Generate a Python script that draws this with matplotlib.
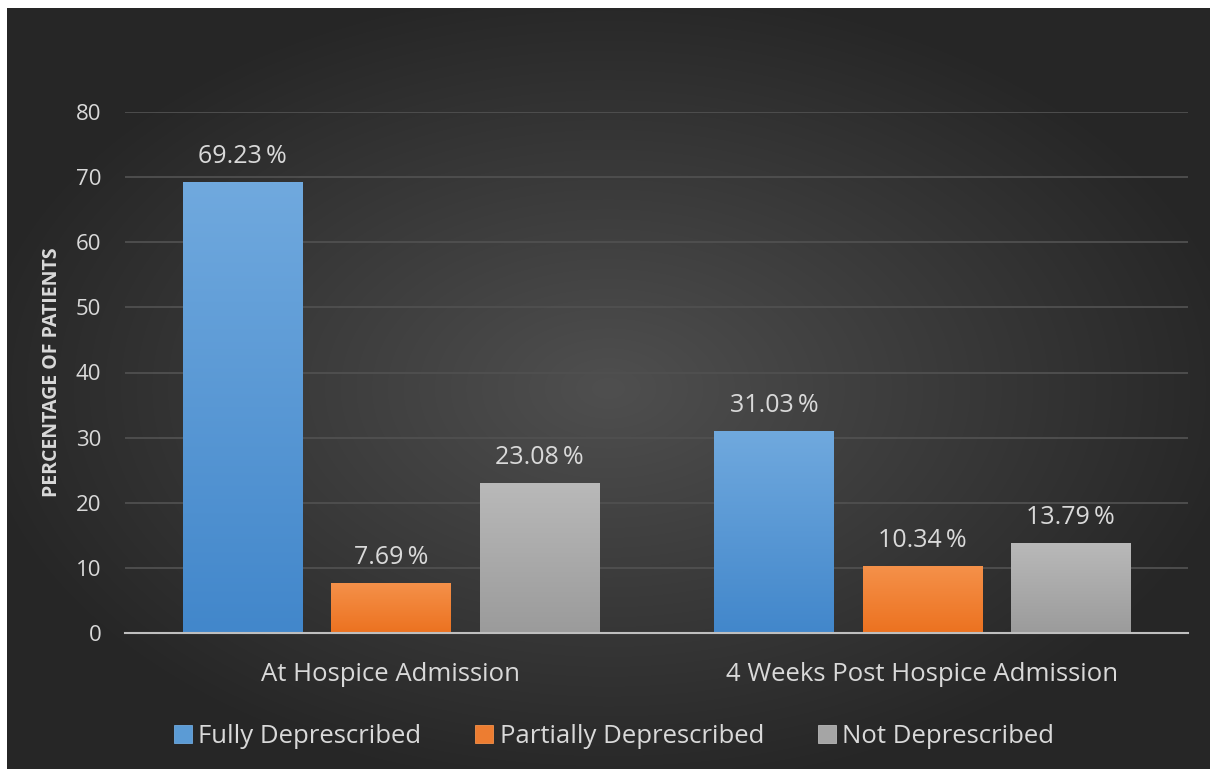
import numpy as np
import matplotlib.pyplot as plt
from matplotlib.colors import to_rgb

categories = ['At Hospice Admission', '4 Weeks Post Hospice Admission']
series_names = ['Fully Deprescribed', 'Partially Deprescribed', 'Not Deprescribed']
fully = [69.23, 31.03]
partially = [7.69, 10.34]
not_depr = [23.08, 13.79]
yticks = [0, 10, 20, 30, 40, 50, 60, 70, 80]

colors = ['#5b9bd5', '#ed7d31', '#a5a5a5']
tops = ['#70a9de', '#f5914a', '#b9b9b9']
bottoms = ['#4287cb', '#ec7220', '#9b9b9b']
txt = '#d9d9d9'
plt.rcParams['font.family'] = ['Open Sans', 'DejaVu Sans']

fig = plt.figure(figsize=(12.1, 7.69), dpi=100)
fig.patch.set_facecolor('white')

# radial gradient background
bg = fig.add_axes([7 / 1210, 0, 1 - 7 / 1210, 1 - 8 / 769])
bg.set_axis_off()
yy, xx = np.mgrid[-1:1:400j, -1:1:600j]
r = np.sqrt(xx ** 2 + yy ** 2)
g = np.clip(0.31 - 0.15 * r, 0.15, 0.33)
img = np.dstack([g, g, g])
bg.imshow(img, aspect='auto', extent=[0, 1, 0, 1], interpolation='bilinear')

ax = fig.add_axes([125 / 1210, 1 - 633 / 769, 1063 / 1210, 521 / 769])
ax.patch.set_alpha(0)

x = np.arange(len(categories))
w = 0.224
step = 0.279
for i, (vals, name) in enumerate(zip([fully, partially, not_depr], series_names)):
    xs = x + (i - 1) * step
    bars = ax.bar(xs, vals, w, color=colors[i], label=name, zorder=3,
                  edgecolor=tops[i], linewidth=0.6)
    t = np.linspace(0, 1, 100)[:, None]
    c0, c1 = np.array(to_rgb(tops[i])), np.array(to_rgb(bottoms[i]))
    grad = (1 - t)[:, :, None] * c0 + t[:, :, None] * c1
    for b, v in zip(bars, vals):
        im = ax.imshow(grad, aspect='auto', zorder=3.5, interpolation='bilinear',
                       extent=[b.get_x(), b.get_x() + b.get_width(), 0, v])
        im.set_clip_path(b)
        ax.text(b.get_x() + b.get_width() / 2, v + 2.0, f'{v:.2f}\u2009%',
                ha='center', va='bottom', color=txt, fontsize=18)

ax.set_xlim(-0.5, 1.5)
ax.set_ylim(0, 80)
ax.set_yticks(yticks)
ax.yaxis.grid(True, color='#505050', lw=1.3, zorder=0)
ax.set_axisbelow(True)
for s in ['top', 'right', 'left']:
    ax.spines[s].set_visible(False)
ax.spines['bottom'].set_color('#bfbfbf')
ax.spines['bottom'].set_linewidth(1.5)
ax.spines['bottom'].set_zorder(5)
ax.tick_params(axis='y', length=0, labelcolor=txt, labelsize=16, pad=17)
ax.tick_params(axis='x', length=0, labelcolor=txt, labelsize=18.5, pad=21)
ax.set_xticks(x)
ax.set_xticklabels(categories)
ax.set_ylabel('PERCENTAGE OF PATIENTS', color=txt, fontsize=14, fontweight='bold', labelpad=10)

leg = ax.legend(loc='upper center', bbox_to_anchor=(0.46, -0.13), ncol=3, frameon=False,
                fontsize=18.5, handlelength=0.7, handleheight=0.7, handletextpad=0.25,
                columnspacing=2.1)
for t in leg.get_texts():
    t.set_color(txt)

fig.savefig('out.png', dpi=100)
